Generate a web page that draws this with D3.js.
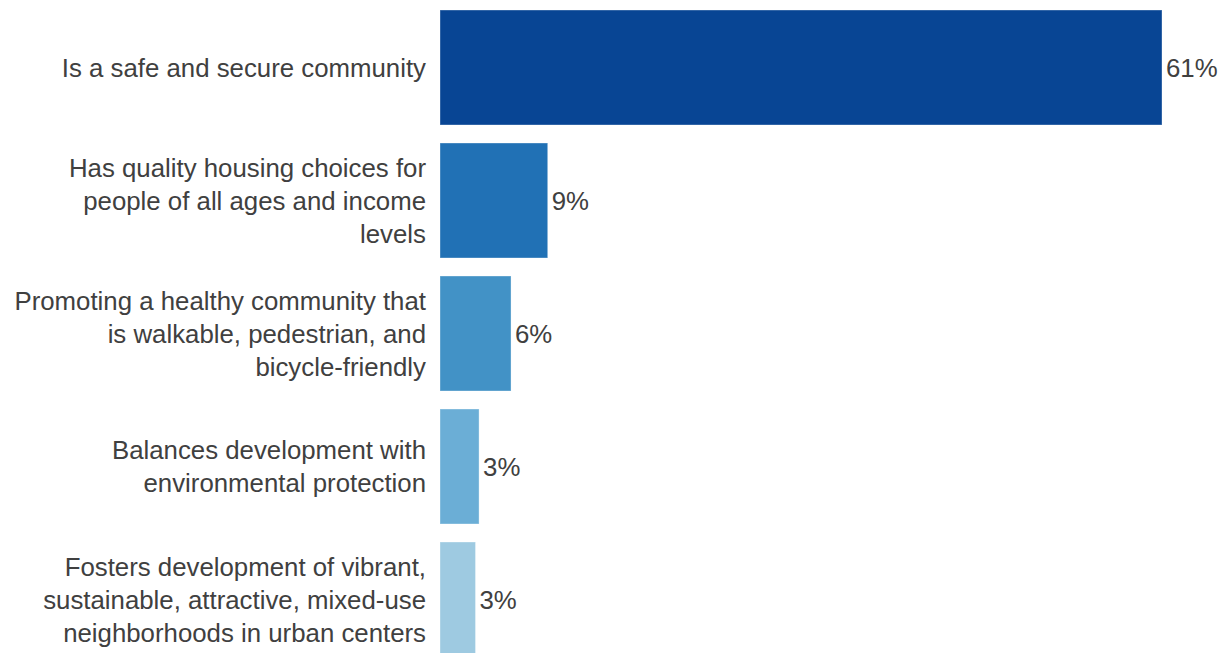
<!DOCTYPE html>
<html>
<head>
<meta charset="utf-8">
<script src="https://cdn.jsdelivr.net/npm/d3@7"></script>
<style>
  html, body { margin: 0; padding: 0; background: #fff; }
  svg { display: block; }
  text { font-family: "Liberation Sans", Arial, sans-serif; fill: #404040; }
</style>
</head>
<body>
<svg id="chart" width="1222" height="653"></svg>
<script>
// Survey priorities: each category label is split into its display lines
const categories = [
  ["Is a safe and secure community"],
  ["Has quality housing choices for", "people of all ages and income", "levels"],
  ["Promoting a healthy community that", "is walkable, pedestrian, and", "bicycle-friendly"],
  ["Balances development with", "environmental protection"],
  ["Fosters development of vibrant,", "sustainable, attractive, mixed-use", "neighborhoods in urban centers"]
];
const values = [61.0, 9.1, 6.0, 3.3, 3.0];
const colors = ["#084594", "#2171b5", "#4292c6", "#6baed6", "#9ecae1"];

const svg = d3.select("#chart");
const left = 440;
const lineHeight = 33;
const fontSize = 25.8;

const idx = d3.range(categories.length);

const x = d3.scaleLinear()
  .domain([0, 61])
  .range([left, 1162]);

const y = d3.scaleBand()
  .domain(idx)
  .range([1, 666])
  .paddingInner(18 / 133)
  .paddingOuter(9 / 133);

const fmt = v => d3.format(".0f")(v) + "%";

// bars
svg.append("g")
  .selectAll("rect")
  .data(idx)
  .join("rect")
  .attr("x", x(0))
  .attr("y", i => y(i))
  .attr("width", i => x(values[i]) - x(0))
  .attr("height", y.bandwidth())
  .attr("fill", i => colors[i])
  .attr("stroke", "#ffffff")
  .attr("stroke-opacity", 0.35)
  .attr("stroke-width", 1);

// value labels
svg.append("g")
  .selectAll("text")
  .data(idx)
  .join("text")
  .attr("x", i => x(values[i]) + 4)
  .attr("y", i => y(i) + y.bandwidth() / 2)
  .attr("dy", "0.35em")
  .attr("font-size", fontSize)
  .text(i => fmt(values[i]));

// category labels, right-aligned and centred on each bar
const labels = svg.append("g")
  .selectAll("text")
  .data(idx)
  .join("text")
  .attr("text-anchor", "end")
  .attr("font-size", fontSize)
  .attr("y", i => y(i) + y.bandwidth() / 2);

labels.selectAll("tspan")
  .data(i => categories[i].map((t, k) => ({ t, k, n: categories[i].length })))
  .join("tspan")
  .attr("x", left - 14)
  .attr("dy", d => d.k === 0 ? ((-(d.n - 1) / 2) * lineHeight + 0.35 * fontSize) : lineHeight)
  .text(d => d.t);
</script>
</body>
</html>
